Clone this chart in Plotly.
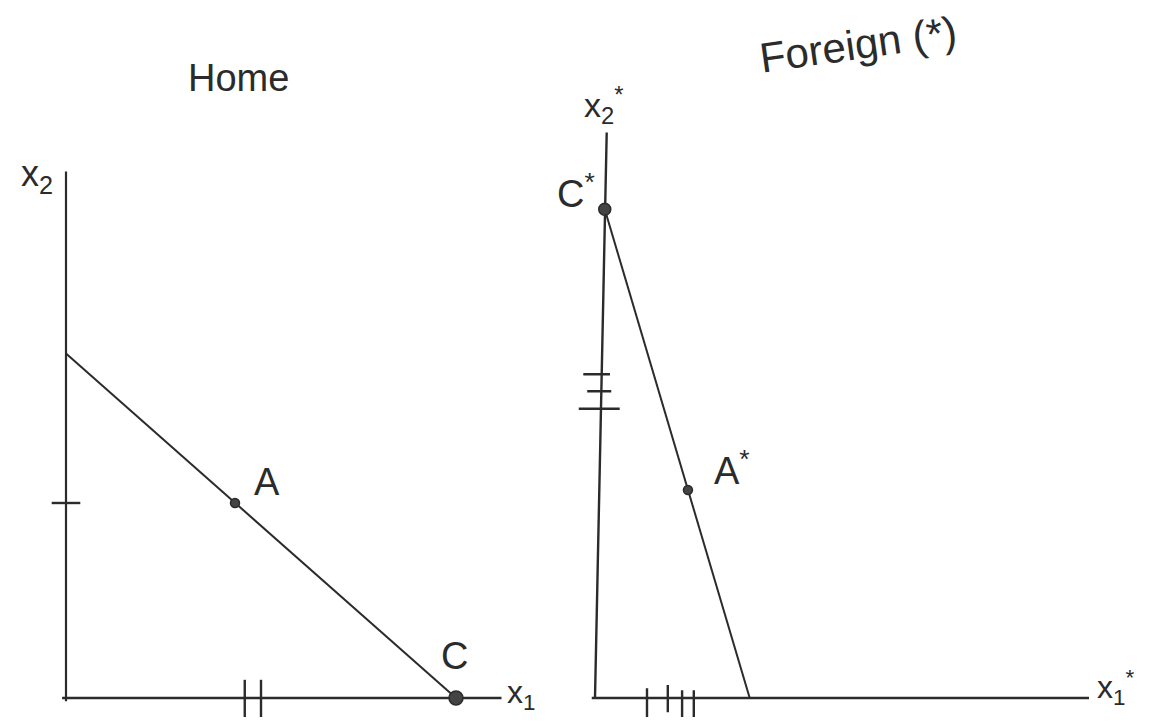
import plotly.graph_objects as go

# ---------------- data (chart units) ----------------
# Home panel
home_x2_axis_x = [0.0, 0.0]
home_x2_axis_y = [-0.05, 8.1]
home_x1_axis_x = [-0.06, 6.7]
home_x1_axis_y = [0.0, 0.0]
home_budget_x = [0.0, 6.0]
home_budget_y = [5.3, 0.0]
home_A = [2.6, 3.0]
home_C = [6.0, 0.0]
home_ytick_x = [-0.22, 0.22]
home_xticks = [2.75, 3.0]
home_xtick_y = [0.28, -0.31]

# Foreign panel
for_x2_axis_x = [0.0, 0.18]
for_x2_axis_y = [0.0, 8.7]
for_x1_axis_x = [-0.05, 7.6]
for_x1_axis_y = [0.0, 0.0]
for_budget_x = [0.15, 2.38]
for_budget_y = [7.52, 0.0]
for_A = [1.43, 3.2]
for_C = [0.15, 7.52]
for_yticks = [4.98, 4.72, 4.45]
for_ytick_x0 = [-0.18, -0.12, -0.25]
for_ytick_x1 = [0.23, 0.25, 0.38]
for_xticks = [0.8, 1.12, 1.34, 1.52]
for_xtick_y0 = [0.15, 0.2, 0.12, 0.12]
for_xtick_y1 = [-0.34, -0.22, -0.3, -0.34]

# ---------------- layout helpers ----------------
PAGE_W, PAGE_H = 1151, 725
BODY = 8                      # default page body margin
W, H = PAGE_W - 2 * BODY, PAGE_H - 2 * BODY
PX = 65.0                     # pixels per unit
home_origin = (66 - BODY, 698 - BODY)
for_origin = (595 - BODY, 698 - BODY)

INK = "#2b2b2b"
FONT = "Liberation Sans"

fig = go.Figure()


def seg(x, y, xa, ya, width=2.2):
    fig.add_trace(go.Scatter(x=x, y=y, mode="lines", xaxis=xa, yaxis=ya,
                             line=dict(color=INK, width=width),
                             hoverinfo="skip", showlegend=False))


def dot(p, xa, ya, size):
    fig.add_trace(go.Scatter(x=[p[0]], y=[p[1]], mode="markers", xaxis=xa, yaxis=ya,
                             marker=dict(color="#444444", size=size,
                                         line=dict(color=INK, width=1.5)),
                             hoverinfo="skip", showlegend=False))


# Home
seg(home_x2_axis_x, home_x2_axis_y, "x", "y", 2.2)
seg(home_x1_axis_x, home_x1_axis_y, "x", "y", 2.4)
seg(home_budget_x, home_budget_y, "x", "y", 2.0)
seg(home_ytick_x, [home_A[1], home_A[1]], "x", "y", 2.4)
for t in home_xticks:
    seg([t, t], home_xtick_y, "x", "y", 2.4)
dot(home_A, "x", "y", 9)
dot(home_C, "x", "y", 14)

# Foreign
seg(for_x2_axis_x, for_x2_axis_y, "x2", "y2", 2.4)
seg(for_x1_axis_x, for_x1_axis_y, "x2", "y2", 2.4)
seg(for_budget_x, for_budget_y, "x2", "y2", 2.0)
for yv, a, b in zip(for_yticks, for_ytick_x0, for_ytick_x1):
    seg([a, b], [yv, yv], "x2", "y2", 2.4)
for xv, a, b in zip(for_xticks, for_xtick_y0, for_xtick_y1):
    seg([xv, xv], [a, b], "x2", "y2", 2.4)
dot(for_A, "x2", "y2", 9)
dot(for_C, "x2", "y2", 12)


def ann(text, x, y, xr, yr, size=32, angle=0):
    fig.add_annotation(text=text, x=x, y=y, xref=xr, yref=yr, showarrow=False,
                       font=dict(family=FONT, size=size, color=INK),
                       textangle=angle, xanchor="center", yanchor="middle")


ann("Home", 2.65, 9.54, "x", "y", 38)
ann("x<sub>2</sub>", -0.45, 8.03, "x", "y", 36)
ann("x<sub>1</sub>", 7.0, 0.06, "x", "y", 32)
ann("A", 3.09, 3.33, "x", "y", 38)
ann("C", 5.98, 0.65, "x", "y", 38)

ann("Foreign (*)", 4.05, 10.05, "x2", "y2", 42, -8)
ann("x<sub>2</sub><sup>*</sup>", 0.14, 9.12, "x2", "y2", 34)
ann("C<sup>*</sup>", -0.3, 7.8, "x2", "y2", 38)
ann("A<sup>*</sup>", 2.1, 3.54, "x2", "y2", 38)
ann("x<sub>1</sub><sup>*</sup>", 8.0, 0.16, "x2", "y2", 32)

# axis ranges so that units map to the sketch's pixel layout
split = 0.5
left_w = W * split


def xr(origin_px, lo_px, hi_px):
    return [(lo_px - origin_px) / PX, (hi_px - origin_px) / PX]


yr = [-(H - home_origin[1]) / PX, home_origin[1] / PX]

hidden = dict(visible=False, showgrid=False, zeroline=False, fixedrange=True)
fig.update_layout(
    width=W, height=H,
    margin=dict(l=0, r=0, t=0, b=0),
    paper_bgcolor="white", plot_bgcolor="white",
    showlegend=False,
    xaxis=dict(domain=[0, split], range=xr(home_origin[0], 0, left_w), **hidden),
    yaxis=dict(domain=[0, 1], range=yr, **hidden),
    xaxis2=dict(domain=[split, 1], range=xr(for_origin[0], left_w, W), anchor="y2", **hidden),
    yaxis2=dict(domain=[0, 1], range=yr, anchor="x2", **hidden),
)

fig.write_html("out.html")
